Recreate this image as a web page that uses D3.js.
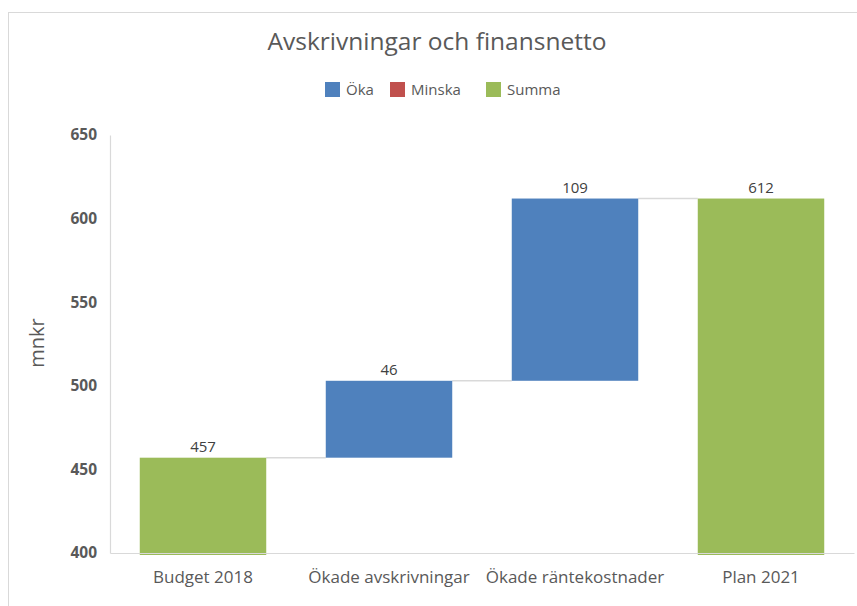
<html>
<head>
<script src="https://d3js.org/d3.v7.min.js"></script>
<style>
  body { margin: 0; background: #fff; }
  text { font-family: "Open Sans", "Liberation Sans", sans-serif; }
</style>
</head>
<body>
<svg id="chart" width="857" height="606"></svg>
<script>
  const categories = ["Budget 2018", "Ökade avskrivningar", "Ökade räntekostnader", "Plan 2021"];
  const values = [457, 46, 109, 612];
  const kinds = ["Summa", "Öka", "Öka", "Summa"];
  const legendNames = ["Öka", "Minska", "Summa"];
  const yTicks = [400, 450, 500, 550, 600, 650];

  const colors = { "Öka": "#4f81bd", "Minska": "#c0504d", "Summa": "#9bbb59" };
  const svg = d3.select("#chart");

  // chart area border
  svg.append("rect")
    .attr("x", 8.5).attr("y", 12.5)
    .attr("width", 860).attr("height", 610)
    .attr("fill", "none").attr("stroke", "#d9d9d9");

  const plotLeft = 110, plotRight = 854, plotTop = 135, plotBottom = 553;

  const x = d3.scaleBand().domain(categories).range([plotLeft, plotRight])
    .paddingInner(0.32).paddingOuter(0.16);
  const y = d3.scaleLinear().domain([400, 650]).range([plotBottom, plotTop]);

  // running totals for the waterfall
  let running = 0;
  const bars = categories.map((c, i) => {
    let lo, hi;
    if (kinds[i] === "Summa") {
      lo = y.domain()[0]; hi = values[i]; running = values[i];
    } else if (kinds[i] === "Öka") {
      lo = running; hi = running + values[i]; running = hi;
    } else {
      hi = running; lo = running - values[i]; running = lo;
    }
    return { cat: c, lo, hi, end: running, kind: kinds[i], label: values[i] };
  });

  // connectors
  svg.append("g").selectAll("line")
    .data(bars.slice(0, -1))
    .join("line")
    .attr("x1", (d) => x(d.cat) + x.bandwidth())
    .attr("x2", (d, i) => x(bars[i + 1].cat))
    .attr("y1", (d) => y(d.end))
    .attr("y2", (d) => y(d.end))
    .attr("stroke", "#d9d9d9").attr("stroke-width", 1.5);

  // bars
  svg.append("g").selectAll("rect")
    .data(bars)
    .join("rect")
    .attr("x", (d) => x(d.cat))
    .attr("width", x.bandwidth())
    .attr("y", (d) => y(d.hi))
    .attr("height", (d) => y(d.lo) - y(d.hi) + (d.kind === "Summa" ? 2 : 0))
    .attr("fill", (d) => colors[d.kind]);

  // data labels
  svg.append("g").selectAll("text")
    .data(bars)
    .join("text")
    .attr("x", (d) => x(d.cat) + x.bandwidth() / 2)
    .attr("y", (d) => y(d.hi) - 6)
    .attr("text-anchor", "middle")
    .attr("font-size", 15)
    .attr("fill", "#404040")
    .text((d) => d.label);

  // y axis
  const yAxis = svg.append("g")
    .attr("transform", `translate(${plotLeft},0)`)
    .call(d3.axisLeft(y).tickValues(yTicks).tickSize(0).tickPadding(13));
  yAxis.select(".domain").attr("stroke", "#d9d9d9").attr("stroke-width", 1.2);
  yAxis.selectAll("text")
    .attr("font-size", 15.5).attr("font-weight", "bold")
    .attr("fill", "#595959")
    .style("font-family", "'Open Sans', sans-serif");

  // x axis
  const xAxis = svg.append("g")
    .attr("transform", `translate(0,${plotBottom})`)
    .call(d3.axisBottom(x).tickSize(0).tickPadding(18));
  xAxis.select(".domain").attr("stroke", "#d9d9d9").attr("stroke-width", 1.2);
  xAxis.selectAll("text")
    .attr("font-size", 17).attr("fill", "#595959")
    .style("font-family", "'Open Sans', sans-serif");

  // y label
  svg.append("text")
    .attr("transform", `translate(44,343) rotate(-90)`)
    .attr("text-anchor", "middle")
    .attr("font-size", 20).attr("fill", "#595959")
    .text("mnkr");

  // title
  svg.append("text")
    .attr("x", 437).attr("y", 50)
    .attr("text-anchor", "middle")
    .attr("font-size", 24.5).attr("fill", "#595959")
    .text("Avskrivningar och finansnetto");

  // legend
  const legendX = [325, 390, 486];
  const legend = svg.append("g").selectAll("g")
    .data(legendNames)
    .join("g")
    .attr("transform", (d, i) => `translate(${legendX[i]},82)`);
  legend.append("rect")
    .attr("width", 15).attr("height", 15)
    .attr("fill", (d) => colors[d]);
  legend.append("text")
    .attr("x", 21).attr("y", 13)
    .attr("font-size", 15).attr("fill", "#595959")
    .text((d) => d);
</script>
</body>
</html>
